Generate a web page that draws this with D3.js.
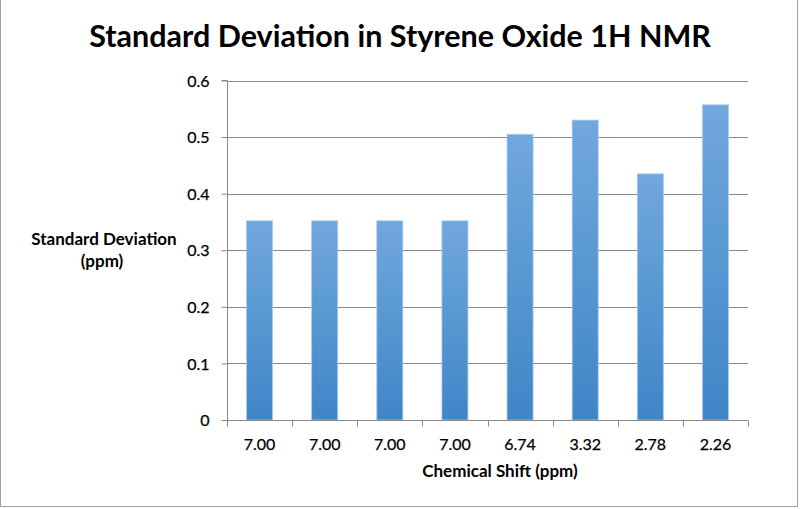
<!DOCTYPE html>
<html><head><meta charset="utf-8">
<script src="https://cdn.jsdelivr.net/npm/d3@7"></script>
<style>html,body{margin:0;padding:0;background:#fff;}svg{display:block;}</style>
</head><body>
<svg id="c" width="800" height="509"></svg>
<script>
const categories = ["7.00","7.00","7.00","7.00","6.74","3.32","2.78","2.26"];
const values = [0.352, 0.352, 0.352, 0.352, 0.505, 0.530, 0.435, 0.557];
const yTicks = [0, 0.1, 0.2, 0.3, 0.4, 0.5, 0.6];
const yTickLabels = ["0","0.1","0.2","0.3","0.4","0.5","0.6"];

const svg = d3.select("#c");
const font = "Lato, 'Open Sans', sans-serif";
const m = {l: 227, r: 748, t: 80.5, b: 420};

// border
svg.append("rect").attr("x",0.5).attr("y",-1).attr("width",797).attr("height",507.5)
  .attr("fill","none").attr("stroke","#a0a0a0").attr("stroke-width",1);

const defs = svg.append("defs");
const g = defs.append("linearGradient").attr("id","bg").attr("x1",0).attr("y1",0).attr("x2",0).attr("y2",1);
g.append("stop").attr("offset","0%").attr("stop-color","#71a8dd");
g.append("stop").attr("offset","100%").attr("stop-color","#3f86c7");

const idx = categories.map((d,i)=>i);
const x = d3.scaleBand().domain(idx).range([m.l, m.r]).paddingInner(0.6).paddingOuter(0.3);
const xb = d3.scaleBand().domain(idx).range([m.l, m.r]);
const y = d3.scaleLinear().domain([0,0.6]).range([m.b, m.t]);

// gridlines
svg.append("g").selectAll("line").data(yTicks.filter(d=>d>0)).join("line")
  .attr("x1", m.l).attr("x2", m.r)
  .attr("y1", d=>Math.round(y(d))+0.5).attr("y2", d=>Math.round(y(d))+0.5)
  .attr("stroke","#8a8a8a").attr("stroke-width",1);

// bars
svg.append("g").selectAll("rect").data(values).join("rect")
  .attr("x",(d,i)=>x(i)).attr("width",x.bandwidth())
  .attr("y",d=>y(d)).attr("height",d=>m.b-y(d))
  .attr("fill","url(#bg)").attr("stroke","#a9cbed").attr("stroke-width",0.8);

// y axis
const yAxis = d3.axisLeft(y).tickValues(yTicks).tickFormat((d,i)=>yTickLabels[i]).tickSize(6).tickPadding(12);
const ya = svg.append("g").attr("transform",`translate(${m.l+0.5},0)`).call(yAxis);
ya.select(".domain").attr("stroke","#8a8a8a").attr("d",`M-6,${m.t}H0V${m.b}`);
ya.selectAll(".tick line").attr("stroke","#8a8a8a");
ya.selectAll(".tick text").attr("font-family",font).attr("font-size",16).attr("fill","#000")
  .attr("stroke","#000").attr("stroke-width",0.25).attr("dy","0.35em");

// x axis
const xAxis = d3.axisBottom(xb).tickFormat(i=>categories[i]).tickSize(0).tickPadding(18);
const xa = svg.append("g").attr("transform",`translate(0,${m.b+0.5})`).call(xAxis);
xa.select(".domain").attr("stroke","#8a8a8a").attr("d",`M${m.l},0H${m.r}`);
xa.selectAll(".tick text").attr("font-family",font).attr("font-size",16).attr("fill","#000")
  .attr("stroke","#000").attr("stroke-width",0.25);
// category boundary ticks
xa.append("g").selectAll("line").data(d3.range(categories.length+1)).join("line")
  .attr("x1",i=>Math.round(m.l + i*xb.step())+0.5).attr("x2",i=>Math.round(m.l + i*xb.step())+0.5)
  .attr("y1",0).attr("y2",6).attr("stroke","#8a8a8a");

// titles
svg.append("text").attr("x",400).attr("y",47).attr("text-anchor","middle")
  .attr("font-family",font).attr("font-weight","bold").attr("font-size",30.5).attr("fill","#000")
  .text("Standard Deviation in Styrene Oxide 1H NMR");
svg.append("text").attr("x",500).attr("y",477).attr("text-anchor","middle")
  .attr("font-family",font).attr("font-weight","bold").attr("font-size",17).attr("fill","#000")
  .text("Chemical Shift (ppm)");
const yt = svg.append("text").attr("text-anchor","middle")
  .attr("font-family",font).attr("font-weight","bold").attr("font-size",17).attr("fill","#000");
yt.append("tspan").attr("x",104).attr("y",245).text("Standard Deviation");
yt.append("tspan").attr("x",102).attr("y",267).text("(ppm)");
</script>
</body></html>
